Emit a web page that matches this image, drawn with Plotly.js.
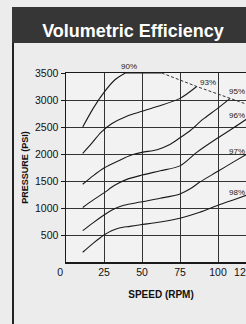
<!DOCTYPE html>
<html>
<head>
<meta charset="utf-8">
<script src="https://cdn.plot.ly/plotly-3.0.1.min.js"></script>
<style>
html,body{margin:0;padding:0;overflow:hidden;background:#ececec;width:246px;height:324px;}
#chart{width:262px;height:324px;}
</style>
</head>
<body>
<div id="chart"></div>
<script>
// ---- data ----
const xTicks = [0, 25, 50, 75, 100, 125];
const xTickLabels = ['0', '25', '50', '75', '100', '125'];
const yTicks = [500, 1000, 1500, 2000, 2500, 3000, 3500];
const yTickLabels = ['500', '1000', '1500', '2000', '2500', '3000', '3500'];

const effLabels = ['90%', '93%', '95%', '96%', '97%', '98%'];

const speed90 = [11, 18, 25, 32, 39];
const press90 = [2500, 2850, 3140, 3370, 3500];

const speed93 = [11, 17, 23, 30, 40, 50, 60, 75, 86];
const press93 = [2010, 2200, 2400, 2560, 2700, 2790, 2880, 3030, 3250];

const speed95 = [11, 18, 25, 35, 43, 50, 60, 68, 75, 82, 90, 100, 108];
const press95 = [1440, 1600, 1740, 1880, 1980, 2030, 2080, 2170, 2300, 2440, 2640, 2850, 3030];

const speed96 = [11, 18, 25, 32, 40, 50, 62, 75, 86, 100, 110, 119];
const press96 = [1010, 1150, 1280, 1420, 1530, 1610, 1690, 1780, 2030, 2300, 2480, 2650];

const speed97 = [11, 18, 25, 30, 38, 49, 62, 75, 82, 88, 100, 110, 119];
const press97 = [580, 730, 870, 960, 1050, 1110, 1180, 1260, 1360, 1480, 1680, 1850, 2000];

const speed98 = [11, 18, 25, 30, 35, 42, 49, 62, 75, 88, 100, 110, 119];
const press98 = [180, 350, 500, 580, 630, 660, 690, 740, 810, 920, 1050, 1150, 1240];

// maximum-pressure limit: solid along top, then dashed
const limitSolidSpeed = [39, 63];
const limitSolidPress = [3500, 3500];
const limitDashSpeed = [63, 86, 108, 125];
const limitDashPress = [3500, 3250, 3030, 2860];

// ---- chart ----
const FONT = '"Liberation Sans", Arial, sans-serif';
const NB = '\u00a0';
// first label sits at the corner, last label is offset left as in the print
const xTickText = xTickLabels.map((t, i) =>
  i === 0 ? t + NB.repeat(4) : (i === xTickLabels.length - 1 ? t + NB.repeat(9) : t));

const curves = [
  [speed90, press90], [speed93, press93], [speed95, press95],
  [speed96, press96], [speed97, press97], [speed98, press98]
];
const lineCol = '#1a1a1a';
const traces = curves.map(([x, y], i) => ({
  x: x, y: y, type: 'scatter', mode: 'lines', name: effLabels[i],
  line: {color: lineCol, width: 1.1, shape: 'spline', smoothing: 0.8},
  hoverinfo: 'skip'
}));
traces.push({x: limitSolidSpeed, y: limitSolidPress, type: 'scatter', mode: 'lines',
  line: {color: lineCol, width: 1.2}, hoverinfo: 'skip'});
traces.push({x: limitDashSpeed, y: limitDashPress, type: 'scatter', mode: 'lines',
  line: {color: '#333', width: 1, dash: '3px,2px'}, hoverinfo: 'skip'});

// label offsets (pixels) relative to each curve's last point
const labelShift = [[4, 7], [11, 4], [7, 7], [-10, 3], [-10, 3], [-10, 3]];
const annotations = curves.map(([x, y], i) => ({
  x: x[x.length - 1], y: y[y.length - 1], xref: 'x', yref: 'y',
  text: effLabels[i], showarrow: false,
  xshift: labelShift[i][0], yshift: labelShift[i][1],
  font: {family: FONT, size: 8, color: '#1a1a1a'}
}));

const W = 262, H = 324, L = 66, R = 6, T = 73, B = 62;
const pw = W - L - R, ph = H - T - B;
const px = v => (v - L) / pw;
const py = v => (H - B - v) / ph;

const shapes = [
  {type: 'rect', xref: 'paper', yref: 'paper', x0: px(12), x1: px(W + 5), y0: py(43), y1: py(7),
   fillcolor: '#363636', line: {width: 0}, layer: 'below'},
  {type: 'line', xref: 'paper', yref: 'paper', x0: px(13), x1: px(13), y0: py(43), y1: py(H + 5),
   line: {color: '#222', width: 2}}
];

const layout = {
  width: W, height: H,
  margin: {l: L, r: R, t: T, b: B, pad: 0},
  paper_bgcolor: '#ececec',
  plot_bgcolor: '#f2f2f2',
  showlegend: false,
  font: {family: FONT, color: '#111', size: 11},
  title: {
    text: 'Volumetric Efficiency', xref: 'container', yref: 'container',
    x: 133 / W, y: 1 - 31 / H, xanchor: 'center', yanchor: 'middle',
    font: {family: FONT, size: 18, color: '#ffffff', weight: 'bold'}
  },
  xaxis: {
    range: [0, 125], tickvals: xTicks, ticktext: xTickText,
    ticklabeloverflow: 'allow',
    showgrid: true, gridcolor: '#333', gridwidth: 1,
    showline: true, linecolor: '#1a1a1a', linewidth: 1.5, mirror: true,
    zeroline: false, ticks: '', fixedrange: true,
    tickfont: {family: FONT, size: 10.5, color: '#111'},
    title: {text: 'SPEED (RPM)', standoff: 14,
      font: {family: FONT, size: 10, color: '#111', weight: 'bold'}},
    automargin: false
  },
  yaxis: {
    range: [0, 3500], tickvals: yTicks, ticktext: yTickLabels,
    showgrid: true, gridcolor: '#333', gridwidth: 1,
    showline: true, linecolor: '#1a1a1a', linewidth: 1.5, mirror: true,
    zeroline: false, ticks: 'outside', ticklen: 4, tickcolor: '#1a1a1a', fixedrange: true,
    tickfont: {family: FONT, size: 10.5, color: '#111'},
    title: {text: 'PRESSURE (PSI)', standoff: 5,
      font: {family: FONT, size: 9, color: '#111', weight: 'bold'}},
    automargin: false
  },
  shapes: shapes,
  annotations: annotations
};

Plotly.newPlot('chart', traces, layout, {staticPlot: true, displayModeBar: false});
</script>
</body>
</html>
